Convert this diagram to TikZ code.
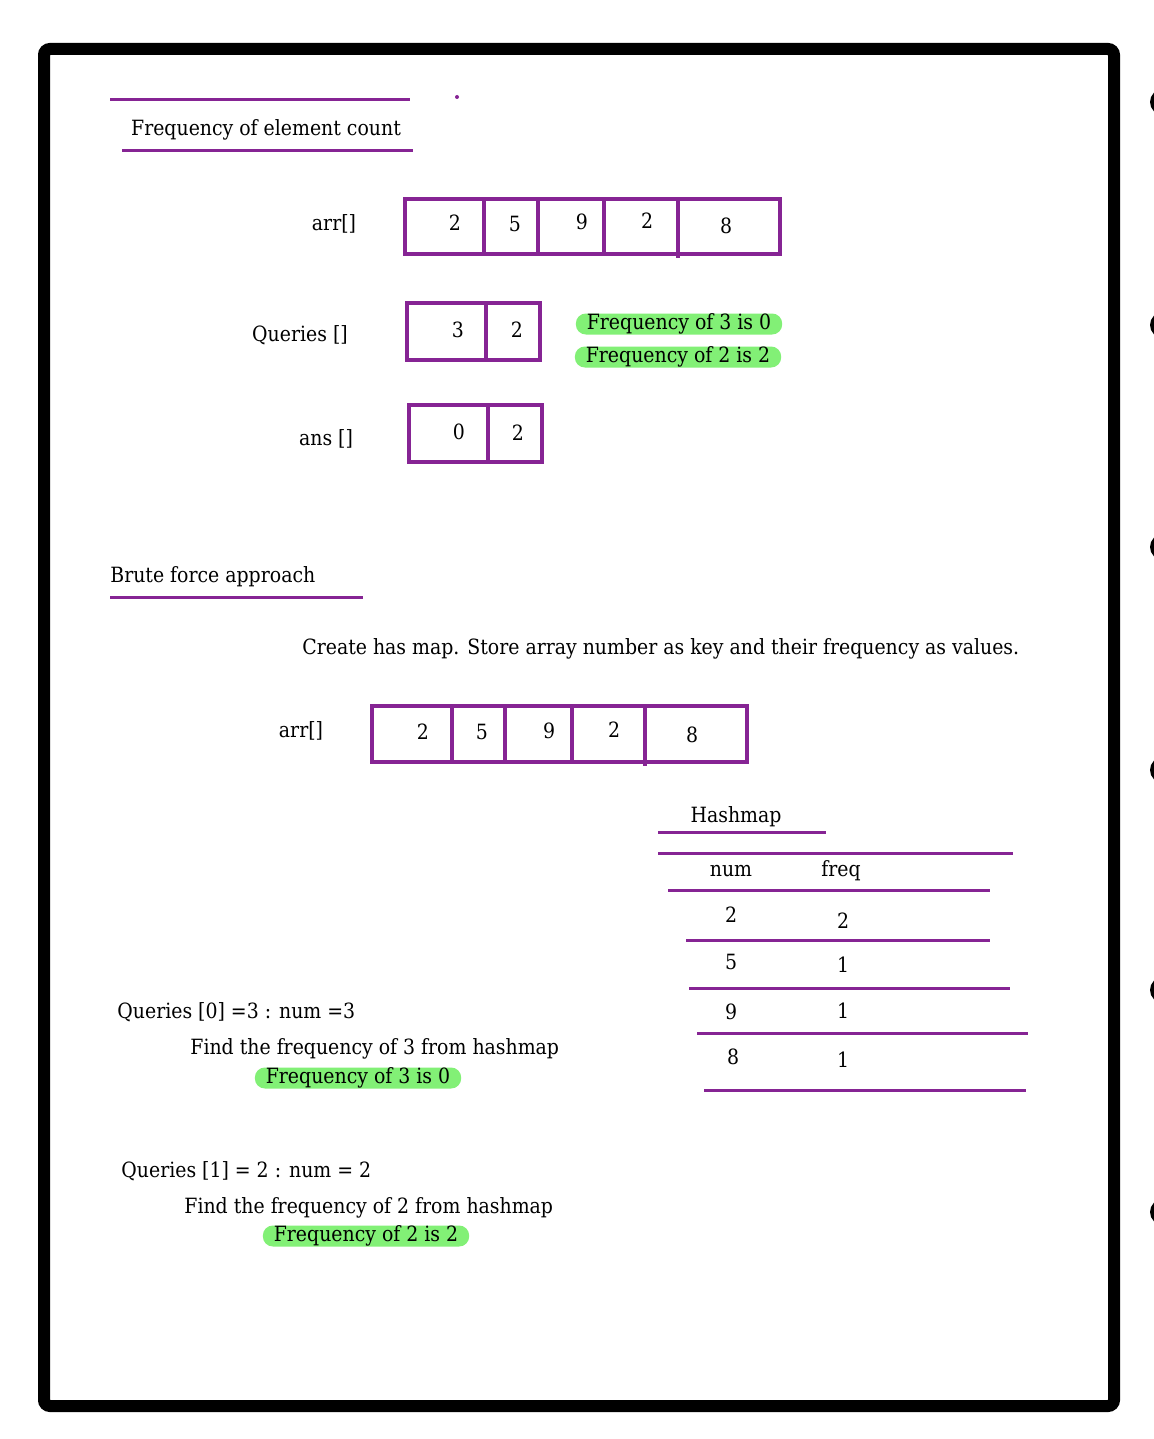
\documentclass[tikz,border=0pt]{standalone}
\usepackage{fontspec}
\setmainfont{DejaVu Serif Condensed}
\definecolor{notepurple}{RGB}{134, 36, 148}
\definecolor{markgreen}{RGB}{130, 240, 118}
\usetikzlibrary{positioning}
\tikzset{
    rule/.style={line width=1.5pt, notepurple},
    cellline/.style={line width=1.6pt, notepurple},
    numtext/.style={inner sep=0pt, yshift=-1pt},
    plaintext/.style={inner sep=0pt, anchor=west, yshift=-1pt},
    highlight/.style={fill=markgreen, rounded corners=5pt, minimum height=10.5pt,
                      inner xsep=5.5pt, inner ysep=0pt},
}
\begin{document}
\begin{tikzpicture}[x=0.5pt, y=-0.5pt, font=\fontsize{10.5}{12}\selectfont]
            \useasboundingbox (0,0) rectangle (1154,1439);
            \fill[white] (0,0) rectangle (1154,1439);

            % Page frame and binder rings
            \draw[line width=6pt, rounded corners=3pt] (44,49) rectangle (1114,1406);
            \fill (1163,102) circle (6.5pt);
            \fill (1163,325) circle (6.5pt);
            \fill (1163,547) circle (6.5pt);
            \fill (1163,770) circle (6.5pt);
            \fill (1163,990) circle (6.5pt);
            \fill (1163,1212) circle (6.5pt);

            % Title
            \draw[rule] (110,100) -- (410,100);
            \fill[notepurple] (457,97) circle (1pt);
            \node[numtext] (title) at (266,128) {Frequency of element count};
            \draw[rule] (122,151) -- (413,151);

            % Input array
            \node[numtext] (arrlbl) at (334,222) {arr[]};
            \draw[cellline] (405,199) rectangle (780,254);
            \draw[cellline] (484,199) -- (484,256);
            \draw[cellline] (538,199) -- (538,256);
            \draw[cellline] (604,199) -- (604,254);
            \draw[cellline] (678,199) -- (678,258);
            \node[numtext] (a0) at (455,221) {2};
            \node[numtext] (a1) at (515,222) {5};
            \node[numtext] (a2) at (582,220) {9};
            \node[numtext] (a3) at (647,219) {2};
            \node[numtext] (a4) at (726,224) {8};

            % Queries
            \node[numtext] (qlbl) at (300,333) {Queries []};
            \draw[cellline] (407,303) rectangle (540,360);
            \draw[cellline] (486,303) -- (486,361);
            \node[numtext] (q0) at (458,328) {3};
            \node[numtext] (q1) at (517,328) {2};
            \node[highlight] (hq0) at (679,324) {Frequency of 3 is 0};
            \node[highlight] (hq1) at (678,357) {Frequency of 2 is 2};

            % Answers
            \node[numtext] (anslbl) at (326,437) {ans []};
            \draw[cellline] (409,405) rectangle (542,462);
            \draw[cellline] (488,405) -- (488,463);
            \node[numtext] (s0) at (459,430) {0};
            \node[numtext] (s1) at (518,431) {2};

            % Brute force approach
            \node[plaintext] (brute) at (110,575) {Brute force approach};
            \draw[rule] (110,597) -- (363,597);
            \node[plaintext] (idea) at (302,647) {Create has map. Store array number as key and their frequency as values.};

            \node[numtext] (arrlbl2) at (301,729) {arr[]};
            \draw[cellline] (372,706) rectangle (747,762);
            \draw[cellline] (452,706) -- (452,764);
            \draw[cellline] (505,706) -- (505,764);
            \draw[cellline] (572,706) -- (572,762);
            \draw[cellline] (645,706) -- (645,766);
            \node[numtext] (b0) at (423,730) {2};
            \node[numtext] (b1) at (482,730) {5};
            \node[numtext] (b2) at (549,729) {9};
            \node[numtext] (b3) at (614,728) {2};
            \node[numtext] (b4) at (692,733) {8};

            % Hashmap table
            \node[numtext] (hash) at (736,815) {Hashmap};
            \draw[rule] (658,832) -- (826,832);
            \draw[rule] (658,853) -- (1013,853);
            \node[numtext] (numhd) at (731,869) {num};
            \node[numtext] (freqhd) at (841,869) {freq};
            \draw[rule] (668,890) -- (990,890);
            \node[numtext] (k0) at (731,913) {2};
            \node[numtext] (v0) at (843,919) {2};
            \draw[rule] (686,940) -- (990,940);
            \node[numtext] (k1) at (731,960) {5};
            \node[numtext] (v1) at (843,963) {1};
            \draw[rule] (689,988) -- (1010,988);
            \node[numtext] (k2) at (731,1010) {9};
            \node[numtext] (v2) at (843,1009) {1};
            \draw[rule] (697,1033) -- (1028,1033);
            \node[numtext] (k3) at (733,1055) {8};
            \node[numtext] (v3) at (843,1058) {1};
            \draw[rule] (704,1090) -- (1026,1090);

            % Query walkthrough
            \node[plaintext] (step0) at (117,1010) {Queries [0] =3 : num =3};
            \node[plaintext] (find0) at (190,1047) {Find the frequency of 3 from hashmap};
            \node[highlight] (res0) at (358,1078) {Frequency of 3 is 0};

            \node[plaintext] (step1) at (121,1169) {Queries [1] = 2 : num = 2};
            \node[plaintext] (find1) at (184,1206) {Find the frequency of 2 from hashmap};
            \node[highlight] (res1) at (366,1236) {Frequency of 2 is 2};
        \end{tikzpicture}
\end{document}
